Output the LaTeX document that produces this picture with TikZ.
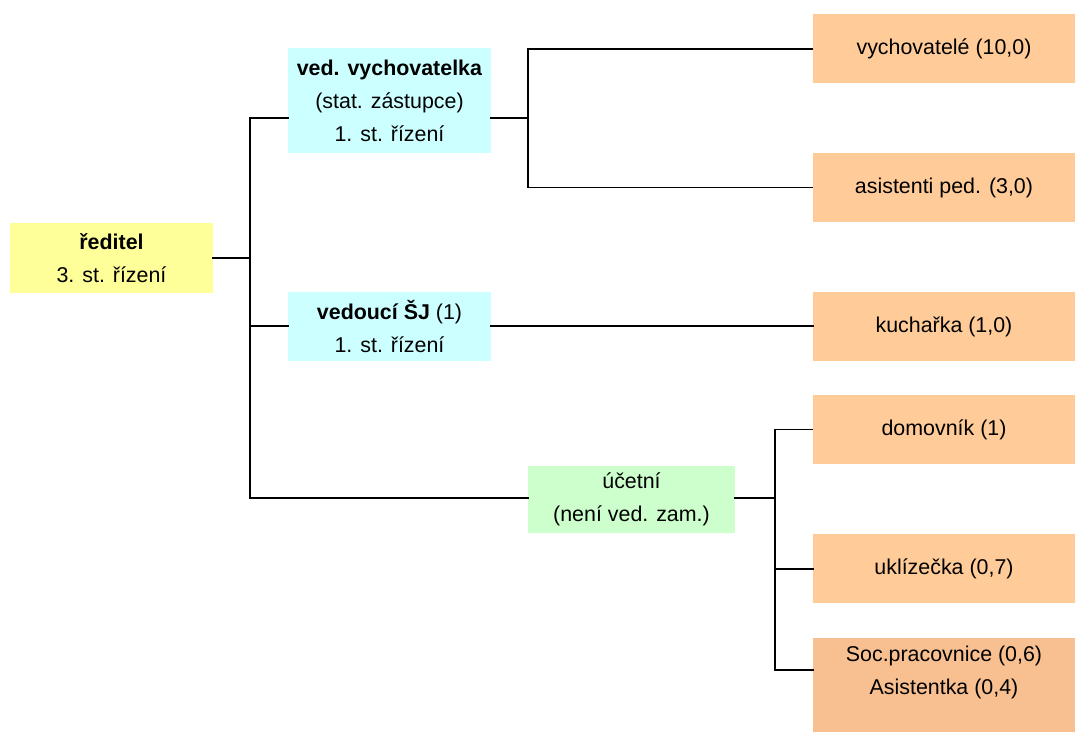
\documentclass[tikz,border=0pt]{standalone}
\usepackage{fontspec}
\setmainfont{Liberation Sans}
\usetikzlibrary{calc}
\usepackage{xcolor}

\definecolor{bossfill}{HTML}{FFFF99}
\definecolor{leadfill}{HTML}{CCFFFF}
\definecolor{acctfill}{HTML}{CCFFCC}
\definecolor{stafffill}{HTML}{FFCC99}
\definecolor{staffdark}{HTML}{F8C090}

\tikzset{
  orgbox/.style={rectangle, inner sep=0pt, align=center},
  bossbox/.style={orgbox, fill=bossfill, minimum width=101.5pt, minimum height=35pt},
  leadbox/.style={orgbox, fill=leadfill, minimum width=101.5pt, minimum height=34.5pt},
  acctbox/.style={orgbox, fill=acctfill, minimum width=103.5pt, minimum height=33.5pt},
  staffbox/.style={orgbox, fill=stafffill, minimum width=131pt, minimum height=34.5pt},
  conn/.style={draw=black, line width=1pt, line cap=rect},
  thinconn/.style={draw=black, line width=0.6pt, line cap=rect}
}

\begin{document}
\begin{tikzpicture}[x=0.5pt, y=-0.5pt, font=\fontsize{10.7}{16.5}\selectfont]

      \useasboundingbox (0,0) rectangle (1075,732);

      % Management
      \node[bossbox] (dir) at (111.5,258) {\textbf{ředitel}\\3. st. řízení};
      \node[leadbox, minimum height=52.5pt] (vedvych) at (389.5,100.5)
        {\textbf{ved. vychovatelka}\\(stat. zástupce)\\1. st. řízení};
      \node[leadbox] (vedsj) at (389.5,326.5) {\textbf{vedoucí ŠJ} (1)\\1. st. řízení};
      \node[acctbox] (ucetni) at (631.5,499.5) {účetní\\(není ved. zam.)};

      % Staff
      \foreach \n/\y/\t in {vych/49/{vychovatelé (10,0)},
                            asist/187.5/{asistenti ped. (3,0)},
                            kuch/326.5/{kuchařka (1,0)},
                            domov/429.5/{domovník (1)},
                            uklid/568.5/{uklízečka (0,7)}}
      {
        \node[staffbox] (\n) at (944,\y) {\t};
      }
      \node[staffbox, fill=staffdark, minimum height=47pt,
        label={[align=center, yshift=6.5pt]center:Soc.pracovnice (0,6)\\Asistentka (0,4)}]
        (soc) at (944,685) {};

      % Director trunk
      \coordinate (t1) at (250,118);
      \coordinate (t4) at (250,498);
      \draw[conn] (dir.east) -- (dir.east -| t1);
      \draw[conn] (t1) -- (t4);
      \draw[conn] (t1) -- (vedvych.west |- t1);
      \draw[conn] (vedsj.west -| t1) -- (vedsj.west);
      \draw[conn] (t4) -- (ucetni.west |- t4);

      % Educators
      \coordinate (b1) at (528,118);
      \draw[conn] (vedvych.east |- b1) -- (b1);
      \draw[conn] (vych.west -| b1) -- (asist.west -| b1);
      \draw[thinconn] (vych.west -| b1) -- (vych.west);
      \draw[thinconn] (asist.west -| b1) -- (asist.west);

      % Kitchen
      \draw[conn] (vedsj.east) -- (kuch.west);

      % Accountant
      \coordinate (c1) at (775,498);
      \coordinate (c3) at (775,670);
      \draw[conn] (ucetni.east |- c1) -- (c1);
      \draw[conn] (domov.west -| c1) -- (c3);
      \draw[thinconn] (domov.west -| c1) -- (domov.west);
      \draw[conn] (uklid.west -| c1) -- (uklid.west);
      \draw[conn] (c3) -- (soc.west |- c3);

\end{tikzpicture}
\end{document}
